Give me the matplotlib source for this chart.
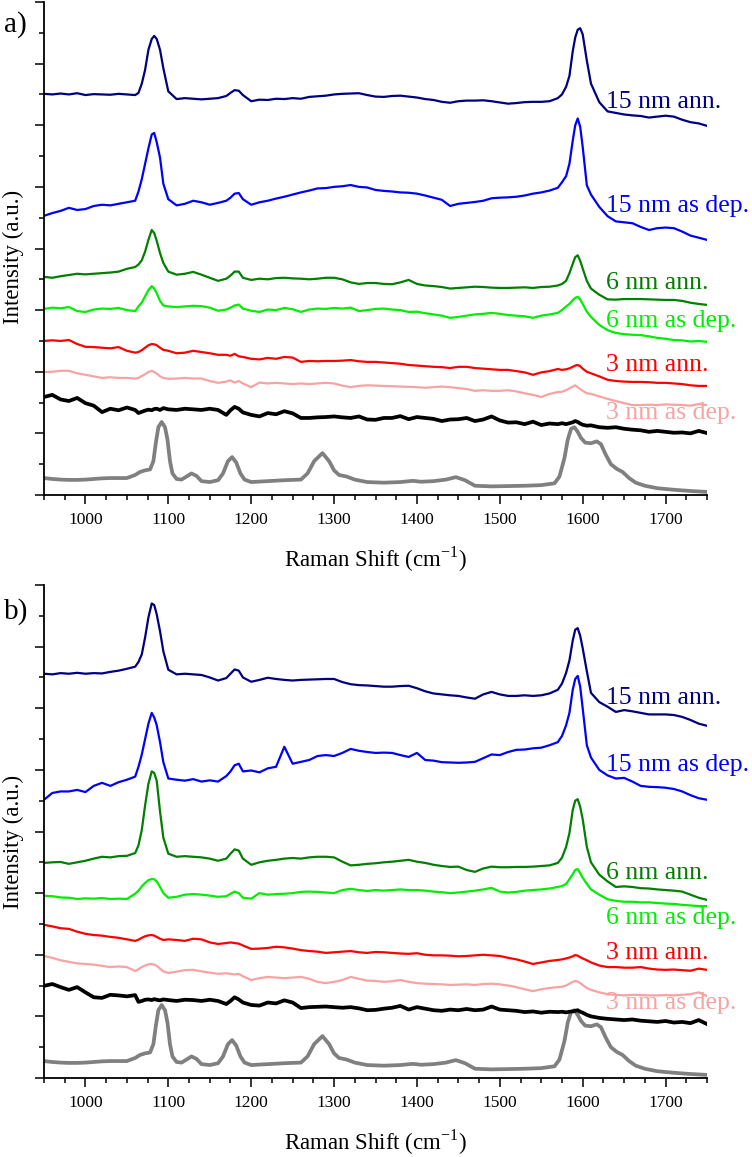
import matplotlib

matplotlib.use("Agg")
import matplotlib.pyplot as plt
from matplotlib.ticker import MultipleLocator, NullFormatter

plt.rcParams["font.family"] = ["Liberation Serif", "DejaVu Serif"]
plt.rcParams["mathtext.fontset"] = "custom"
plt.rcParams["mathtext.rm"] = "Liberation Serif"

# ---------------------------------------------------------------------------
# data (offset intensities, arbitrary units)
# ---------------------------------------------------------------------------
SHIFT = [
    950, 960, 970, 980, 990, 1000, 1010, 1020, 1030, 1040, 1050, 1060,
    1064, 1068, 1072, 1076, 1080, 1083, 1086, 1090, 1094, 1100,
    1110, 1120, 1130, 1140, 1150, 1160, 1170,
    1175, 1180, 1185, 1190,
    1200, 1210, 1220, 1230, 1240, 1250, 1260, 1270, 1280, 1290,
    1300, 1310, 1320, 1330, 1340, 1350, 1360, 1370, 1380, 1390,
    1400, 1410, 1420, 1430, 1440, 1450, 1460, 1470, 1480, 1490,
    1500, 1510, 1520, 1530, 1540, 1550, 1560, 1570,
    1575, 1580, 1584, 1588, 1591, 1594, 1597, 1600, 1605, 1610,
    1620, 1630, 1640, 1650, 1660, 1670, 1680, 1690, 1700, 1710, 1720, 1730, 1740, 1750,
]

# panel a)
A_15_ANN = [
    13.02, 13.00, 13.03, 13.00, 13.04, 12.98, 13.01, 13.00, 12.99, 13.02, 13.00, 12.98,
    13.05, 13.35, 13.80, 14.45, 14.80, 14.90, 14.80, 14.45, 13.85, 13.10,
    12.85, 12.88, 12.86, 12.84, 12.86, 12.88, 12.95,
    13.05, 13.14, 13.12, 12.98,
    12.78, 12.83, 12.82, 12.86, 12.85, 12.88, 12.86, 12.92, 12.94, 12.96,
    13.00, 13.02, 13.03, 13.04, 12.98, 12.93, 12.92, 12.95, 12.96, 12.93,
    12.90, 12.85, 12.82, 12.76, 12.73, 12.78, 12.80, 12.80, 12.81, 12.78,
    12.74, 12.70, 12.72, 12.75, 12.76, 12.76, 12.78, 12.88,
    13.00, 13.25, 13.60, 14.40, 14.85, 15.10, 15.15, 14.95, 14.10, 13.35,
    12.75, 12.45, 12.40, 12.35, 12.32, 12.30, 12.25, 12.28, 12.31, 12.28, 12.18, 12.10, 12.06, 11.98,
]
A_15_DEP = [
    9.06, 9.15, 9.22, 9.32, 9.25, 9.28, 9.38, 9.42, 9.40, 9.45, 9.50, 9.55,
    9.85, 10.25, 10.75, 11.25, 11.70, 11.75, 11.45, 10.95, 10.10, 9.60,
    9.40, 9.45, 9.55, 9.50, 9.42, 9.48, 9.55,
    9.65, 9.78, 9.80, 9.60,
    9.42, 9.50, 9.55, 9.62, 9.68, 9.75, 9.82, 9.88, 9.95, 9.96,
    10.00, 10.02, 10.06, 10.00, 9.98, 9.90, 9.87, 9.85, 9.82, 9.81,
    9.78, 9.72, 9.65, 9.58, 9.38, 9.45, 9.48, 9.51, 9.55, 9.63,
    9.65, 9.66, 9.68, 9.72, 9.78, 9.82, 9.88, 9.97,
    10.15, 10.35, 10.75, 11.50, 12.00, 12.22, 11.95, 11.30, 10.05, 9.75,
    9.35, 9.05, 8.88, 8.85, 8.82, 8.70, 8.60, 8.66, 8.68, 8.66, 8.55, 8.42, 8.35, 8.28,
]
A_6_ANN = [
    7.08, 7.05, 7.10, 7.14, 7.18, 7.16, 7.18, 7.20, 7.22, 7.25, 7.34, 7.40,
    7.48, 7.62, 7.90, 8.28, 8.60, 8.50, 8.25, 7.85, 7.53, 7.25,
    7.15, 7.18, 7.24, 7.15, 7.05, 6.95, 7.02,
    7.12, 7.25, 7.25, 7.05,
    6.98, 7.02, 7.00, 7.04, 7.05, 7.03, 7.02, 7.00, 7.02, 7.05,
    7.05, 7.00, 6.90, 6.85, 6.88, 6.88, 6.85, 6.84, 6.90, 6.98,
    6.85, 6.80, 6.78, 6.75, 6.70, 6.72, 6.74, 6.76, 6.75, 6.73,
    6.72, 6.72, 6.73, 6.74, 6.72, 6.75, 6.76, 6.80,
    6.85, 6.95, 7.20, 7.50, 7.72, 7.78, 7.60, 7.35, 6.95, 6.70,
    6.50, 6.35, 6.34, 6.36, 6.36, 6.36, 6.35, 6.34, 6.33, 6.33, 6.30, 6.24, 6.20, 6.17,
]
A_6_DEP = [
    6.04, 6.08, 6.06, 6.10, 5.97, 5.94, 6.02, 6.05, 6.04, 6.07, 6.00, 5.97,
    6.12, 6.25, 6.45, 6.65, 6.78, 6.70, 6.55, 6.30, 6.15, 6.12,
    6.10, 6.12, 6.14, 6.13, 6.08, 5.98, 6.02,
    6.08, 6.15, 6.18, 6.05,
    5.98, 5.94, 6.02, 6.00, 6.07, 6.03, 5.94, 6.02, 6.05, 6.04,
    6.07, 6.05, 6.08, 5.97, 6.00, 6.04, 6.05, 6.02, 6.00, 5.94,
    5.95, 5.90, 5.86, 5.82, 5.75, 5.78, 5.82, 5.86, 5.88, 5.91,
    5.88, 5.84, 5.82, 5.80, 5.75, 5.82, 5.86, 5.91,
    6.00, 6.12, 6.20, 6.32, 6.40, 6.43, 6.35, 6.20, 5.95, 5.78,
    5.52, 5.35, 5.26, 5.22, 5.20, 5.19, 5.15, 5.10, 5.07, 5.03, 5.02, 4.98, 5.00, 4.97,
]
A_3_ANN = [
    5.00, 5.02, 5.00, 5.03, 4.90, 4.81, 4.80, 4.78, 4.76, 4.80, 4.68, 4.62,
    4.64, 4.70, 4.78, 4.86, 4.90, 4.89, 4.86, 4.78, 4.71, 4.68,
    4.60, 4.62, 4.68, 4.64, 4.60, 4.55, 4.55,
    4.52, 4.58, 4.50, 4.48,
    4.42, 4.40, 4.45, 4.42, 4.48, 4.46, 4.32, 4.35, 4.34, 4.35,
    4.35, 4.36, 4.38, 4.34, 4.32, 4.32, 4.30, 4.28, 4.26, 4.22,
    4.20, 4.18, 4.16, 4.15, 4.12, 4.16, 4.16, 4.12, 4.10, 4.08,
    4.06, 4.06, 4.02, 3.98, 3.90, 3.98, 4.02, 4.09,
    4.06, 4.08, 4.11, 4.16, 4.20, 4.22, 4.18, 4.10, 4.00, 3.95,
    3.85, 3.74, 3.70, 3.68, 3.67, 3.67, 3.66, 3.64, 3.64, 3.62, 3.60, 3.56, 3.54, 3.54,
]
A_3_DEP = [
    3.99, 4.00, 4.03, 4.03, 3.95, 3.90, 3.85, 3.80, 3.82, 3.80, 3.80, 3.78,
    3.80, 3.86, 3.92, 3.99, 4.03, 3.99, 3.94, 3.85, 3.80, 3.77,
    3.78, 3.80, 3.78, 3.78, 3.70, 3.64, 3.68,
    3.72, 3.65, 3.70, 3.62,
    3.50, 3.65, 3.62, 3.64, 3.62, 3.60, 3.62, 3.60, 3.62, 3.64,
    3.62, 3.55, 3.50, 3.54, 3.56, 3.55, 3.54, 3.53, 3.52, 3.51,
    3.50, 3.48, 3.50, 3.52, 3.50, 3.47, 3.44, 3.38, 3.40, 3.38,
    3.38, 3.40, 3.36, 3.30, 3.25, 3.18, 3.28, 3.34,
    3.35, 3.40, 3.46, 3.52, 3.56, 3.50, 3.44, 3.38, 3.30, 3.28,
    3.20, 3.12, 3.05, 2.98, 2.92, 2.92, 2.93, 2.92, 2.94, 2.93, 2.92, 2.90, 2.95, 2.92,
]
A_SUBSTRATE = [
    3.18, 3.25, 3.10, 3.05, 3.15, 2.98, 2.90, 2.69, 2.80, 2.75, 2.84, 2.76,
    2.66, 2.70, 2.74, 2.77, 2.75, 2.79, 2.80, 2.76, 2.82, 2.78,
    2.76, 2.80, 2.78, 2.76, 2.80, 2.76, 2.60,
    2.75, 2.86, 2.80, 2.68,
    2.60, 2.55, 2.66, 2.62, 2.72, 2.65, 2.50, 2.50, 2.52, 2.53,
    2.55, 2.52, 2.50, 2.55, 2.45, 2.44, 2.50, 2.50, 2.56, 2.46,
    2.53, 2.50, 2.47, 2.40, 2.45, 2.46, 2.50, 2.40, 2.45, 2.55,
    2.42, 2.35, 2.36, 2.30, 2.38, 2.27, 2.32, 2.30,
    2.33, 2.30, 2.33, 2.36, 2.40, 2.37, 2.32, 2.28, 2.25, 2.26,
    2.20, 2.18, 2.20, 2.15, 2.12, 2.10, 2.05, 2.08, 2.05, 2.02, 2.03, 2.00, 2.08, 2.01,
]

# panel b)
B_15_ANN = [
    13.12, 13.10, 13.14, 13.12, 13.15, 13.12, 13.14, 13.13, 13.18, 13.22, 13.28, 13.35,
    13.50, 13.75, 14.30, 14.95, 15.40, 15.35, 15.05, 14.50, 13.85, 13.25,
    13.10, 13.12, 13.10, 13.08, 13.00, 12.90, 12.98,
    13.12, 13.26, 13.22, 13.00,
    12.86, 12.92, 12.99, 12.95, 12.92, 12.90, 12.92, 12.93, 12.94, 12.95,
    12.95, 12.85, 12.78, 12.75, 12.74, 12.72, 12.70, 12.70, 12.72, 12.73,
    12.65, 12.55, 12.48, 12.45, 12.42, 12.40, 12.35, 12.31, 12.45, 12.53,
    12.45, 12.40, 12.40, 12.42, 12.40, 12.42, 12.48, 12.60,
    12.80, 13.15, 13.55, 14.20, 14.55, 14.60, 14.35, 13.95, 13.20, 12.50,
    12.20, 12.05, 11.88, 11.94, 11.90, 11.85, 11.80, 11.80, 11.80, 11.78, 11.72, 11.62, 11.50, 11.43,
]
B_15_DEP = [
    9.03, 9.25, 9.30, 9.30, 9.35, 9.28, 9.48, 9.58, 9.48, 9.60, 9.68, 9.78,
    10.10, 10.50, 11.00, 11.50, 11.85, 11.70, 11.45, 10.90, 10.25, 9.72,
    9.68, 9.65, 9.70, 9.62, 9.66, 9.62, 9.80,
    9.95, 10.15, 10.20, 9.95,
    9.98, 9.92, 10.05, 10.10, 10.75, 10.20, 10.26, 10.32, 10.45, 10.48,
    10.45, 10.55, 10.68, 10.62, 10.58, 10.55, 10.56, 10.55, 10.48, 10.42,
    10.55, 10.32, 10.30, 10.25, 10.24, 10.23, 10.24, 10.26, 10.38, 10.50,
    10.48, 10.58, 10.65, 10.66, 10.70, 10.72, 10.80, 10.90,
    11.10, 11.45, 11.85, 12.60, 12.95, 13.05, 12.70, 12.00, 10.80, 10.40,
    10.00, 9.82, 9.72, 9.74, 9.62, 9.48, 9.45, 9.44, 9.42, 9.38, 9.30, 9.18, 9.08, 9.03,
]
B_6_ANN = [
    6.98, 7.00, 7.01, 6.95, 7.00, 7.05, 7.12, 7.18, 7.16, 7.20, 7.21, 7.30,
    7.55, 8.05, 8.85, 9.55, 9.95, 9.90, 9.65, 8.65, 7.80, 7.28,
    7.18, 7.20, 7.18, 7.16, 7.12, 7.05, 7.12,
    7.28, 7.42, 7.38, 7.12,
    6.92, 7.00, 7.05, 7.08, 7.12, 7.14, 7.12, 7.16, 7.18, 7.18,
    7.16, 7.02, 6.90, 6.92, 6.95, 6.97, 7.00, 7.02, 7.05, 7.08,
    7.02, 6.98, 6.92, 6.88, 6.85, 6.86, 6.75, 6.69, 6.80, 6.86,
    6.84, 6.84, 6.85, 6.85, 6.86, 6.88, 6.90, 6.98,
    7.15, 7.50, 7.95, 8.70, 9.00, 9.05, 8.80, 8.40, 7.50, 7.00,
    6.60, 6.38, 6.20, 6.22, 6.20, 6.16, 6.15, 6.12, 6.10, 6.08, 6.05, 5.95, 5.85, 5.78,
]
B_6_DEP = [
    5.91, 5.90, 5.86, 5.85, 5.81, 5.83, 5.82, 5.84, 5.81, 5.82, 5.81, 5.98,
    6.08, 6.22, 6.33, 6.42, 6.46, 6.45, 6.38, 6.20, 6.00, 5.85,
    5.88, 5.95, 5.97, 5.95, 5.92, 5.88, 5.90,
    5.98, 6.05, 6.00, 5.85,
    5.82, 6.00, 5.95, 5.97, 5.98, 6.00, 6.04, 6.05, 6.04, 6.02,
    6.00, 6.10, 6.14, 6.10, 6.07, 6.10, 6.08, 6.10, 6.12, 6.10,
    6.10, 6.08, 6.05, 6.03, 6.00, 6.02, 6.05, 6.08, 6.12, 6.17,
    6.05, 6.02, 6.04, 6.08, 6.10, 6.12, 6.15, 6.20,
    6.23, 6.30, 6.45, 6.62, 6.75, 6.78, 6.65, 6.50, 6.30, 6.12,
    5.95, 5.80, 5.75, 5.72, 5.72, 5.70, 5.70, 5.68, 5.66, 5.65, 5.62, 5.60, 5.58, 5.58,
]
B_3_ANN = [
    4.97, 4.92, 4.86, 4.84, 4.75, 4.68, 4.64, 4.62, 4.58, 4.55, 4.50, 4.45,
    4.49, 4.55, 4.60, 4.63, 4.64, 4.62, 4.58, 4.52, 4.48, 4.50,
    4.48, 4.45, 4.52, 4.50, 4.40, 4.35, 4.38,
    4.40, 4.38, 4.36, 4.30,
    4.19, 4.20, 4.22, 4.26, 4.24, 4.20, 4.15, 4.12, 4.10, 4.06,
    4.08, 4.10, 4.12, 4.08, 4.06, 4.09, 4.08, 4.06, 4.04, 4.03,
    4.05, 4.00, 3.98, 3.98, 3.97, 3.95, 3.96, 3.98, 4.00, 3.98,
    3.96, 3.90, 3.85, 3.78, 3.70, 3.75, 3.80, 3.83,
    3.85, 3.88, 3.91, 3.95, 3.99, 3.97, 3.92, 3.88, 3.82, 3.75,
    3.65, 3.60, 3.60, 3.58, 3.58, 3.60, 3.55, 3.52, 3.51, 3.52, 3.50, 3.48, 3.55, 3.51,
]
B_3_DEP = [
    3.96, 3.90, 3.82, 3.77, 3.72, 3.70, 3.68, 3.64, 3.60, 3.62, 3.60, 3.47,
    3.53, 3.60, 3.65, 3.69, 3.70, 3.68, 3.64, 3.55, 3.46, 3.41,
    3.45, 3.50, 3.51, 3.46, 3.42, 3.38, 3.40,
    3.38, 3.36, 3.38, 3.30,
    3.18, 3.24, 3.28, 3.26, 3.24, 3.26, 3.28, 3.22, 3.12, 3.08,
    3.12, 3.18, 3.28, 3.22, 3.16, 3.15, 3.12, 3.14, 3.18, 3.12,
    3.08, 3.06, 3.05, 3.04, 3.02, 3.03, 3.04, 3.02, 3.05, 3.06,
    3.04, 3.00, 2.95, 2.88, 2.82, 2.88, 2.92, 2.95,
    2.96, 3.00, 3.06, 3.12, 3.15, 3.13, 3.08, 3.02, 2.92, 2.86,
    2.78, 2.72, 2.70, 2.68, 2.70, 2.69, 2.68, 2.68, 2.69, 2.68, 2.70, 2.72, 2.78, 2.66,
]
B_SUBSTRATE = [
    2.99, 3.05, 2.95, 2.86, 2.95, 2.78, 2.62, 2.60, 2.70, 2.68, 2.65, 2.69,
    2.47, 2.50, 2.54, 2.55, 2.53, 2.56, 2.54, 2.52, 2.55, 2.53,
    2.50, 2.54, 2.53, 2.50, 2.54, 2.50, 2.40,
    2.50, 2.62, 2.55, 2.45,
    2.37, 2.35, 2.45, 2.42, 2.52, 2.45, 2.27, 2.30, 2.31, 2.32,
    2.30, 2.28, 2.30, 2.26, 2.20, 2.21, 2.25, 2.28, 2.34, 2.22,
    2.30, 2.25, 2.20, 2.18, 2.22, 2.20, 2.24, 2.20, 2.22, 2.32,
    2.22, 2.20, 2.18, 2.14, 2.16, 2.12, 2.15, 2.14,
    2.15, 2.13, 2.15, 2.16, 2.18, 2.20, 2.15, 2.12, 2.05, 2.00,
    1.95, 1.92, 1.90, 1.88, 1.90, 1.86, 1.84, 1.82, 1.85, 1.80, 1.82, 1.78, 1.88, 1.75,
]

# reference spectrum (grey), same in both panels
REF_SHIFT = [
    950, 960, 970, 980, 990, 1000, 1010, 1020, 1030, 1040, 1050, 1060,
    1066, 1072, 1078, 1082, 1085, 1088, 1092, 1096, 1099, 1102, 1105, 1110,
    1116, 1122, 1128, 1134, 1140, 1150, 1160, 1166, 1172, 1177, 1182, 1187, 1192,
    1200, 1220, 1240, 1260, 1268, 1276, 1286, 1294, 1300, 1306, 1315, 1325,
    1340, 1360, 1380, 1395, 1405, 1420, 1435, 1447, 1458, 1470, 1490, 1510,
    1530, 1550, 1566, 1572, 1578, 1582, 1586, 1590, 1594, 1598, 1603, 1610,
    1617, 1622, 1628, 1634, 1641, 1648, 1656, 1664, 1675, 1690, 1710, 1730, 1750,
]
REF_INT = [
    0.55, 0.52, 0.50, 0.49, 0.49, 0.50, 0.52, 0.54, 0.55, 0.55, 0.55, 0.65,
    0.75, 0.80, 0.83, 1.10, 1.70, 2.20, 2.37, 2.20, 1.80, 1.10, 0.70, 0.52,
    0.50, 0.60, 0.70, 0.62, 0.45, 0.42, 0.48, 0.70, 1.10, 1.23, 1.05, 0.70, 0.50,
    0.42, 0.45, 0.48, 0.50, 0.70, 1.10, 1.36, 1.10, 0.80, 0.65, 0.60, 0.50,
    0.42, 0.40, 0.42, 0.46, 0.43, 0.45, 0.50, 0.58, 0.48, 0.30, 0.28, 0.29,
    0.30, 0.32, 0.38, 0.60, 1.20, 1.80, 2.15, 2.20, 2.05, 1.85, 1.70, 1.68,
    1.74, 1.65, 1.30, 1.00, 0.85, 0.75, 0.55, 0.40, 0.30, 0.22, 0.17, 0.13, 0.10,
]

SAMPLE_LABELS = ["15 nm ann.", "15 nm as dep.", "6 nm ann.", "6 nm as dep.", "3 nm ann.", "3 nm as dep."]
SAMPLE_COLORS = ["#000080", "#0000ff", "#008000", "#00ee00", "#ff0000", "#f7a3a3"]
LABEL_X = 1628
LABEL_Y_A = [12.56, 9.19, 6.69, 5.45, 4.03, 2.47]
LABEL_Y_B = [12.14, 9.97, 6.46, 5.00, 3.86, 2.24]

PANEL_A = [A_15_ANN, A_15_DEP, A_6_ANN, A_6_DEP, A_3_ANN, A_3_DEP]
PANEL_B = [B_15_ANN, B_15_DEP, B_6_ANN, B_6_DEP, B_3_ANN, B_3_DEP]

W, H = 752, 1157


def draw_panel(ax, series, substrate, label_y):
    ax.plot(REF_SHIFT, REF_INT, color="#808080", lw=2.7, solid_joinstyle="round")
    ax.plot(SHIFT, substrate, color="black", lw=2.7, solid_joinstyle="round")
    for vals, color in zip(series, SAMPLE_COLORS):
        ax.plot(SHIFT, vals, color=color, lw=1.6)
    for text, y, color in zip(SAMPLE_LABELS, label_y, SAMPLE_COLORS):
        ax.text(LABEL_X, y, text, color=color, fontsize=18.5, va="baseline", ha="left", clip_on=False)

    ax.set_xlim(950, 1750)
    ax.set_ylim(0, 16)
    ax.xaxis.set_major_locator(MultipleLocator(100))
    ax.xaxis.set_minor_locator(MultipleLocator(25))
    ax.yaxis.set_major_locator(MultipleLocator(2))
    ax.yaxis.set_minor_locator(MultipleLocator(1))
    ax.yaxis.set_major_formatter(NullFormatter())
    ax.tick_params(which="major", length=6.5, width=1.1, direction="out", labelsize=12.5, pad=6)
    ax.tick_params(which="minor", length=3.5, width=1.1, direction="out")
    ax.spines["top"].set_visible(False)
    ax.spines["right"].set_visible(False)
    ax.spines["left"].set_linewidth(1.3)
    ax.spines["bottom"].set_linewidth(1.3)


fig = plt.figure(figsize=(W / 100, H / 100), dpi=100)
left = 44 / W
width = (707 - 44) / W
height = 493 / H
ax_a = fig.add_axes([left, (H - 495) / H, width, height])
ax_b = fig.add_axes([left, (H - 1078) / H, width, height])

draw_panel(ax_a, PANEL_A, A_SUBSTRATE, LABEL_Y_A)
draw_panel(ax_b, PANEL_B, B_SUBSTRATE, LABEL_Y_B)

xlabel = r"Raman Shift (cm$^{\mathrm{-1}}$)"
fig.text(375 / W, 1 - 567 / H, xlabel, ha="center", va="baseline", fontsize=16.5)
fig.text(375 / W, 1 - 1150 / H, xlabel, ha="center", va="baseline", fontsize=16.5)
fig.text(13 / W, 1 - 257 / H, "Intensity (a.u.)", rotation=90, ha="center", va="center", fontsize=16.5)
fig.text(13 / W, 1 - 842 / H, "Intensity (a.u.)", rotation=90, ha="center", va="center", fontsize=16.5)
fig.text(4 / W, 1 - 32 / H, "a)", ha="left", va="baseline", fontsize=21)
fig.text(4 / W, 1 - 619 / H, "b)", ha="left", va="baseline", fontsize=21)

fig.savefig("out.png", dpi=100)
